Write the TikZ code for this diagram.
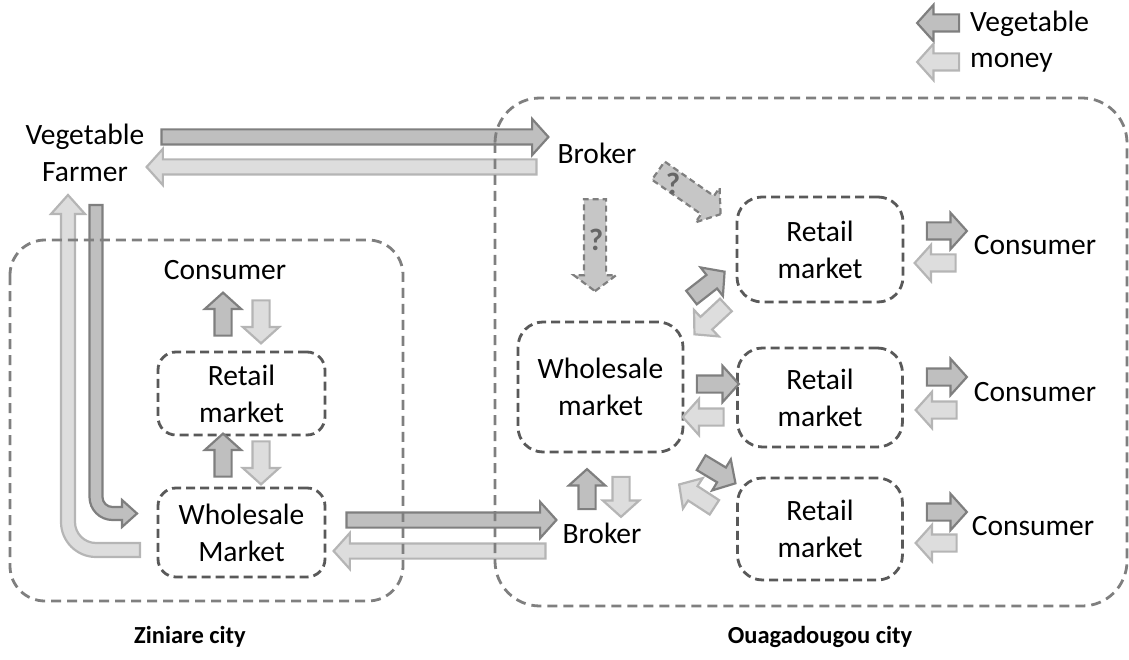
\documentclass[tikz,border=0pt]{standalone}
\usepackage{fontspec}
\setmainfont{Carlito}
\usetikzlibrary{shapes.arrows}
\definecolor{vegF}{HTML}{BFBFBF}
\definecolor{vegB}{HTML}{7F7F7F}
\definecolor{monF}{HTML}{DDDDDD}
\definecolor{monB}{HTML}{B5B5B5}
\definecolor{boxC}{HTML}{595959}
\definecolor{cityC}{HTML}{7F7F7F}
\definecolor{qF}{HTML}{C6C6C6}
\definecolor{qT}{HTML}{666666}
\begin{document}
\begin{tikzpicture}[x=1pt,y=-1pt,
  txt/.style={font=\fontsize{29.5}{37}\selectfont, align=center, inner sep=0pt},
  lbl/.style={font=\bfseries\fontsize{24.5}{28}\selectfont, inner sep=0pt},
  blk/.style={single arrow, line width=2.2pt, inner xsep=0pt, inner ysep=7.5pt, single arrow tip angle=96,
              minimum width=35pt, single arrow head extend=9.5pt},
  veg/.style={blk, draw=vegB, fill=vegF},
  mon/.style={blk, draw=monB, fill=monF},
  big/.style={inner ysep=6.5pt, minimum width=34pt, single arrow head extend=10.5pt},
  qarr/.style={single arrow, draw=vegB, fill=qF, dash pattern=on 6pt off 4pt, line width=2.2pt,
               inner xsep=0pt, inner ysep=10pt, minimum width=40pt, single arrow head extend=10pt, single arrow tip angle=106},
  qmark/.style={font=\bfseries\fontsize{31}{31}\selectfont, text=qT, inner sep=0pt},
  mkt/.style={txt, draw=boxC, dash pattern=on 9pt off 5pt, line width=2.8pt, rounded corners=18pt},
  city/.style={draw=cityC, dash pattern=on 10pt off 6pt, line width=2.8pt}
]
\useasboundingbox (0,0) rectangle (1129,660);

% ---- text nodes
\node[txt] (farmer) at (85,153) {Vegetable\\Farmer};
\node[txt] (brokerT) at (597,153) {Broker};
\node[txt] (brokerB) at (602,533) {Broker};
\node[txt] (zcons) at (225,270) {Consumer};
\node[txt] (c1) at (1035,245) {Consumer};
\node[txt] (c2) at (1035,392) {Consumer};
\node[txt] (c3) at (1033,526) {Consumer};

% ---- market boxes
\node[mkt, minimum width=167pt, minimum height=83pt] (zretail) at (241.5,393.5) {Retail\\market};
\node[mkt, minimum width=167pt, minimum height=89pt] (zwhole) at (241.5,532.5) {Wholesale\\Market};
\node[mkt, minimum width=165pt, minimum height=130pt, rounded corners=25pt] (owhole) at (600.5,387) {Wholesale\\market};
\node[mkt, minimum width=166pt, minimum height=105pt, rounded corners=25pt] (r1) at (820,249.5) {Retail\\market};
\node[mkt, minimum width=165pt, minimum height=99pt, rounded corners=25pt] (r2) at (820,397.5) {Retail\\market};
\node[mkt, minimum width=165pt, minimum height=102pt, rounded corners=25pt] (r3) at (820,529) {Retail\\market};

% ---- long arrows between the cities
\node[veg, big, minimum height=387pt] (fb) at (351.5,137) {};
\node[mon, big, minimum height=390pt, rotate=180] (bf) at (345,167) {};
\node[veg, big, minimum height=210pt] (wb) at (448,520) {};
\node[mon, big, minimum height=212pt, rotate=180] (bw) at (443,551) {};

% ---- L-shaped arrows (farmer <-> Ziniare wholesale)
\draw[line width=2.2pt, draw=vegB, fill=vegF, line join=miter]
  (89.5,205) -- (102.5,205) -- (102.5,497)
  .. controls (102.5,502.5) and (107,507) .. (112.5,507)
  -- (122,507) -- (122,500) -- (137,513.5) -- (122,527) -- (122,520) -- (112.5,520)
  .. controls (99.8,520) and (89.5,509.7) .. (89.5,497) -- cycle;
\draw[line width=2.2pt, draw=monB, fill=monF, line join=miter]
  (140,543) -- (96,543)
  .. controls (84.4,543) and (75,533.6) .. (75,522)
  -- (75,214) -- (85,214) -- (68,195) -- (51,214) -- (61,214) -- (61,522)
  .. controls (61,541.3) and (76.7,557) .. (96,557) -- (140,557) -- cycle;

% ---- city boundaries
\draw[city, rounded corners=35pt] (10,240) rectangle (403,601);
\draw[city, rounded corners=45pt] (495,98) rectangle (1127,606);

% ---- Ziniare small arrows
\node[veg, minimum height=43pt, rotate=90] (za1) at (223,318) {};
\node[mon, minimum height=43pt, rotate=-90] (zb1) at (261,318) {};
\node[veg, minimum height=43pt, rotate=90] (za2) at (223,459) {};
\node[mon, minimum height=43pt, rotate=-90] (zb2) at (261,459) {};

% ---- Ouagadougou broker arrows
\node[veg, minimum height=40pt, rotate=90] (ba) at (587,493) {};
\node[mon, minimum height=40pt, rotate=-90] (bb) at (621,493) {};
\node[qarr, minimum height=92pt, rotate=-90] (q1a) at (595,241) {};
\node[qarr, minimum height=76pt, rotate=-35] (q2a) at (686,190) {};
\node[qmark] (q1) at (596,240) {?};
\node[qmark] (q2) at (673,184) {?};

% ---- wholesale <-> retail arrows
\node[veg, minimum height=42pt, rotate=38] (w1) at (705,287) {};
\node[mon, minimum height=43pt, rotate=223] (m1) at (713,317) {};
\node[veg, minimum height=42pt] (w2) at (714,384) {};
\node[mon, minimum height=41pt, rotate=180] (m2) at (707,417) {};
\node[veg, minimum height=40pt, rotate=-31] (w3) at (715,471) {};
\node[mon, minimum height=42pt, rotate=147] (m3) at (700,498) {};

% ---- retail <-> consumer arrows
\node[veg, minimum height=40pt] (rc1) at (943,231) {};
\node[mon, minimum height=41pt, rotate=180] (cr1) at (939,263) {};
\node[veg, minimum height=40pt] (rc2) at (943,377) {};
\node[mon, minimum height=41pt, rotate=180] (cr2) at (940,410) {};
\node[veg, minimum height=40pt] (rc3) at (943,512) {};
\node[mon, minimum height=41pt, rotate=180] (cr3) at (940,543) {};

% ---- legend
\node[veg, minimum height=42pt, rotate=180] (legv) at (942,23) {};
\node[mon, minimum height=42pt, rotate=180] (legm) at (942,62) {};
\node[txt, anchor=west] (legvt) at (970,24) {Vegetable};
\node[txt, anchor=west] (legmt) at (970,63) {money};

% ---- city labels
\node[lbl] (zlab) at (190,637) {Ziniare city};
\node[lbl] (olab) at (820,637) {Ouagadougou city};
\end{tikzpicture}
\end{document}
